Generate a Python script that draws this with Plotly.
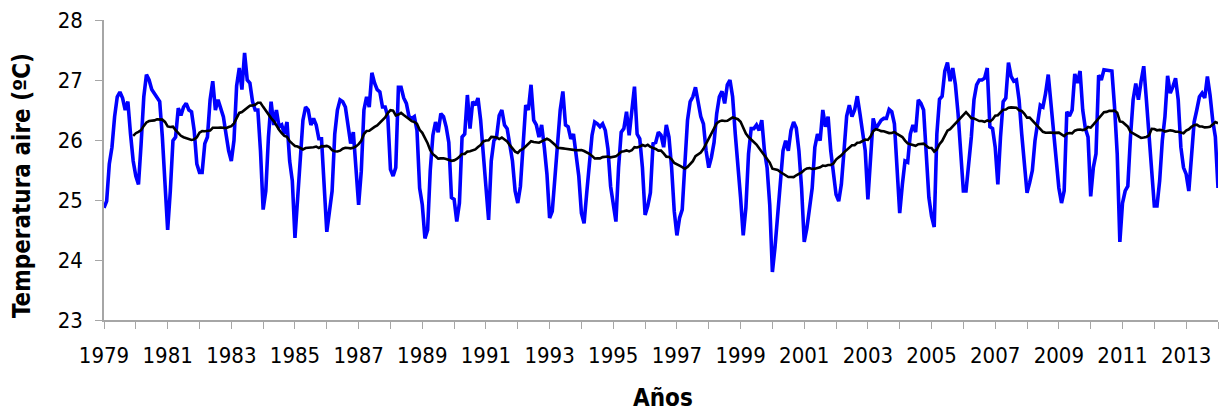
import pandas as pd
import plotly.graph_objects as go

# Monthly mean air temperature (ºC), January 1979 onwards
first_year = 1979
temperature = [
    24.87, 24.98, 25.60, 25.88, 26.39, 26.72, 26.80, 26.70, 26.50, 26.64, 26.10, 25.65,
    25.40, 25.26, 25.94, 26.72, 27.09, 27.00, 26.84, 26.78, 26.70, 26.64, 26.05, 25.20,
    24.50, 25.15, 25.99, 26.05, 26.53, 26.41, 26.55, 26.61, 26.50, 26.47, 26.16, 25.60,
    25.46, 25.46, 25.94, 26.05, 26.67, 26.98, 26.50, 26.67, 26.55, 26.39, 26.10, 25.82,
    25.65, 25.99, 26.90, 27.20, 26.84, 27.45, 27.00, 26.95, 26.64, 26.50, 26.50, 25.82,
    24.84, 25.15, 26.05, 26.64, 26.25, 26.50, 26.22, 26.25, 26.10, 26.30, 25.65, 25.32,
    24.37, 25.04, 25.77, 26.33, 26.55, 26.50, 26.25, 26.36, 26.25, 26.02, 26.02, 25.26,
    24.47, 24.81, 25.15, 26.10, 26.50, 26.67, 26.64, 26.55, 26.22, 25.94, 26.13, 25.54,
    24.92, 25.48, 26.50, 26.72, 26.55, 27.12, 26.95, 26.84, 26.80, 26.55, 26.55, 26.39,
    25.51, 25.40, 25.54, 26.88, 26.88, 26.70, 26.61, 26.39, 26.36, 26.39, 26.16, 25.20,
    24.92, 24.36, 24.50, 25.49, 26.08, 26.30, 26.13, 26.44, 26.39, 26.22, 25.96, 25.04,
    25.01, 24.64, 24.95, 26.05, 26.10, 26.75, 26.19, 26.64, 26.58, 26.70, 26.33, 25.77,
    25.20, 24.67, 25.65, 25.99, 26.05, 26.41, 26.50, 26.25, 26.19, 25.96, 25.65, 25.15,
    24.95, 25.23, 25.88, 26.58, 26.50, 26.92, 26.33, 26.25, 26.05, 26.25, 25.88, 25.43,
    24.70, 24.81, 25.37, 25.94, 26.50, 26.81, 26.25, 26.22, 26.02, 26.10, 25.80, 25.40,
    24.78, 24.61, 25.12, 25.63, 26.08, 26.30, 26.27, 26.22, 26.27, 26.16, 25.85, 25.23,
    24.95, 24.64, 25.54, 26.13, 26.19, 26.47, 26.08, 26.44, 26.89, 26.10, 26.02, 25.54,
    24.75, 24.90, 25.12, 25.94, 25.96, 26.13, 26.08, 25.88, 26.25, 26.05, 25.54, 24.81,
    24.41, 24.70, 24.84, 25.60, 26.33, 26.64, 26.72, 26.88, 26.64, 26.39, 26.27, 25.82,
    25.54, 25.71, 25.96, 26.44, 26.72, 26.81, 26.61, 26.92, 27.00, 26.72, 26.10, 25.63,
    25.04, 24.41, 24.87, 25.77, 26.19, 26.19, 26.25, 26.16, 26.33, 25.82, 25.54, 24.92,
    23.80, 24.22, 24.81, 25.37, 25.82, 25.99, 25.82, 26.16, 26.30, 26.20, 25.82, 25.20,
    24.30, 24.53, 24.87, 25.20, 25.88, 26.10, 25.99, 26.50, 26.22, 26.39, 25.82, 25.49,
    25.09, 24.98, 25.26, 25.82, 26.40, 26.58, 26.39, 26.50, 26.73, 26.44, 26.08, 25.82,
    25.01, 25.65, 26.36, 26.19, 26.27, 26.33, 26.36, 26.36, 26.51, 26.47, 26.27, 25.43,
    24.78, 25.26, 25.65, 25.63, 26.10, 26.25, 26.13, 26.67, 26.61, 26.50, 25.82, 25.04,
    24.73, 24.55, 26.10, 26.68, 26.73, 27.15, 27.29, 26.98, 27.20, 26.92, 26.44, 25.77,
    25.15, 25.15, 25.54, 26.05, 26.67, 26.92, 27.00, 27.00, 27.03, 27.20, 26.22, 26.19,
    25.88, 25.26, 26.05, 26.64, 26.70, 27.29, 27.06, 26.98, 27.00, 26.67, 26.10, 25.60,
    25.12, 25.29, 25.49, 25.99, 26.27, 26.58, 26.55, 26.78, 27.09, 26.61, 26.05, 25.57,
    25.20, 24.95, 25.15, 26.47, 26.40, 26.50, 27.10, 26.95, 27.15, 26.50, 26.19, 26.05,
    25.06, 25.54, 25.77, 27.08, 27.00, 27.17, 27.16, 27.16, 27.15, 26.55, 25.77, 24.30,
    24.95, 25.15, 25.23, 26.05, 26.67, 26.94, 26.67, 26.98, 27.23, 26.67, 26.10, 25.60,
    24.90, 24.90, 25.32, 25.99, 26.39, 27.07, 26.78, 26.89, 27.03, 26.67, 25.88, 25.54,
    25.43, 25.15, 25.82, 26.30, 26.50, 26.72, 26.78, 26.70, 27.06, 26.75, 26.33, 26.05,
    25.20,
]

# Time axis in decimal years, one step per month
months = pd.Series(range(len(temperature)))
time = first_year + months / 12.0

# 12-month moving average trendline
series = pd.Series(temperature)
moving_avg = series.rolling(window=12).mean()

tick_years = list(range(first_year, first_year + 36))
tick_labels = [str(y) if (y - first_year) % 2 == 0 and y < 2014 else "" for y in tick_years]

FONT = "Tahoma, 'DejaVu Sans Condensed', 'DejaVu Sans', sans-serif"
AXIS_GRAY = "#a6a6a6"

fig = go.Figure()
fig.add_trace(go.Scatter(
    x=time, y=temperature, mode="lines",
    line=dict(color="#0000ff", width=3.6),
    name="Temperatura", showlegend=False, hoverinfo="skip",
))
fig.add_trace(go.Scatter(
    x=time[11:], y=moving_avg[11:], mode="lines",
    line=dict(color="#000000", width=2.6),
    name="Media móvil 12 meses", showlegend=False, hoverinfo="skip",
))

fig.update_layout(
    width=1224, height=411,
    margin=dict(l=104, r=6, t=20, b=91),
    paper_bgcolor="white", plot_bgcolor="white",
    font=dict(family=FONT, color="black", size=22),
    xaxis=dict(
        range=[first_year, first_year + 35],
        tickmode="array", tickvals=tick_years, ticktext=tick_labels,
        ticks="outside", ticklen=7, tickcolor=AXIS_GRAY, tickwidth=1,
        showline=True, linecolor=AXIS_GRAY, linewidth=1.5,
        showgrid=False, zeroline=False,
        tickfont=dict(family=FONT, size=22, color="black"),
        ticklabelstandoff=8,
    ),
    yaxis=dict(
        range=[23, 28], dtick=1, tick0=23,
        ticks="outside", ticklen=7, tickcolor=AXIS_GRAY, tickwidth=1,
        showline=True, linecolor=AXIS_GRAY, linewidth=1.5,
        showgrid=False, zeroline=False,
        tickfont=dict(family=FONT, size=22, color="black"),
        ticklabelstandoff=8,
    ),
    annotations=[
        dict(text="<b>Temperatura aire (ºC)</b>", xref="paper", yref="paper",
             x=(22 - 104) / 1114.3, y=(320 - 186) / 300, textangle=-90,
             xanchor="center", yanchor="middle", showarrow=False,
             font=dict(family=FONT, size=24, color="black")),
        dict(text="<b>Años</b>", xref="paper", yref="paper",
             x=(663 - 104) / 1114.3, y=(320 - 398) / 300,
             xanchor="center", yanchor="middle", showarrow=False,
             font=dict(family=FONT, size=24, color="black")),
    ],
)

fig.write_html("out.html")
